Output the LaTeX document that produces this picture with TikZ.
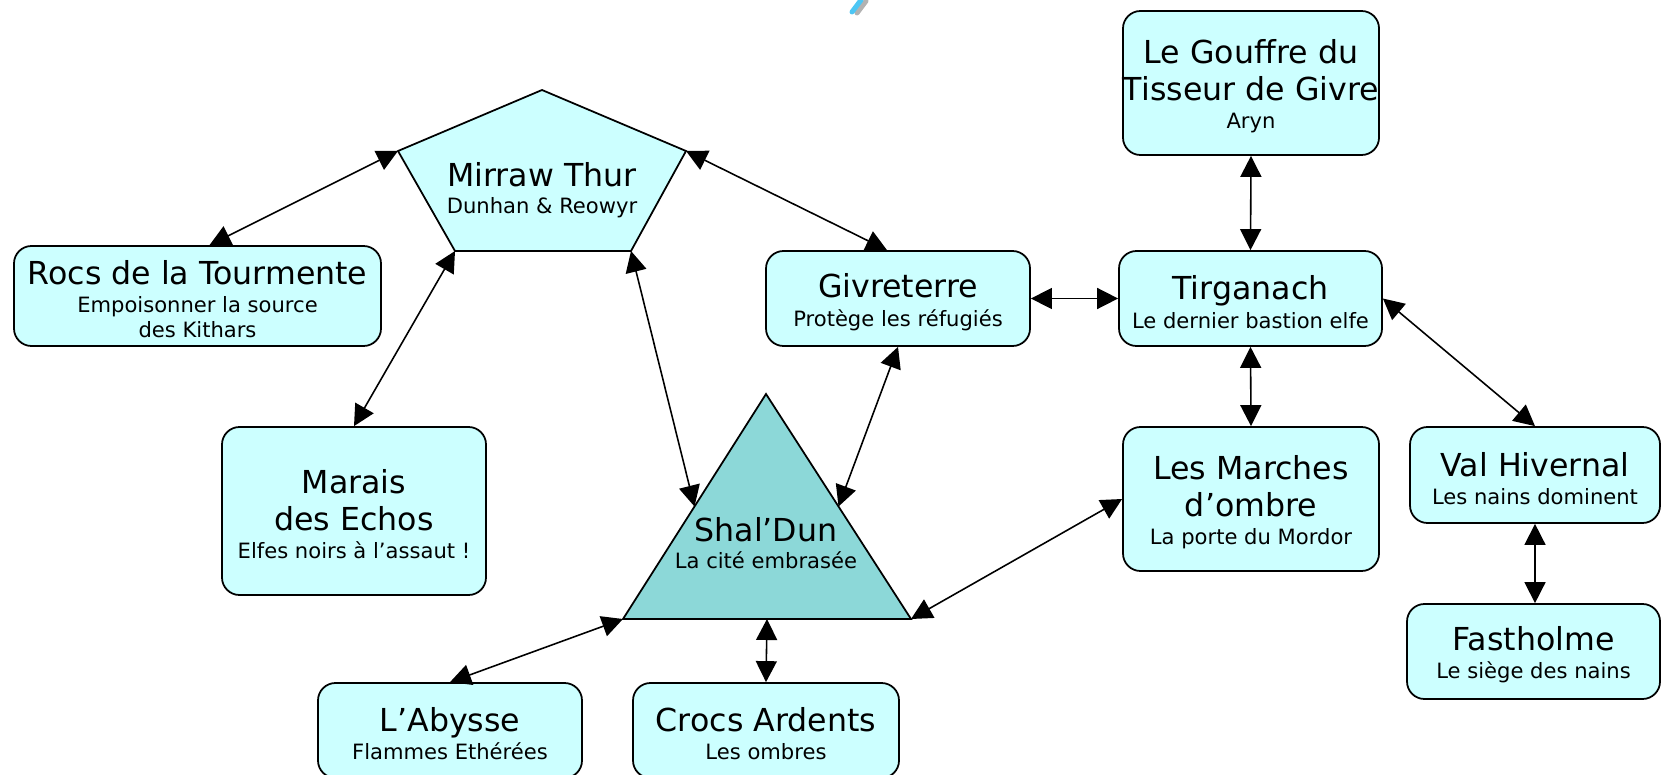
\documentclass[tikz,border=0pt]{standalone}
\usepackage{fontspec}
\setmainfont{DejaVu Sans}
\usetikzlibrary{arrows.meta}
\usetikzlibrary{calc}

\definecolor{boxcyan}{RGB}{204,255,255}
\definecolor{citycyan}{RGB}{140,216,216}

\newcommand{\bigtxt}{\fontsize{18}{14.2}\selectfont}
\newcommand{\smalltxt}{\fontsize{12}{14.2}\selectfont}
\newcommand{\lift}{\rule{0pt}{17.5pt}}

\tikzset{
  place/.style={draw, line width=1pt, fill=boxcyan, rounded corners=3.5mm,
    align=center, inner sep=0pt, font=\smalltxt},
  link/.style={line width=0.9pt,
    {Triangle[length=4.2mm,width=4.2mm]}-{Triangle[length=4.2mm,width=4.2mm]}},
}

\begin{document}
\begin{tikzpicture}[x=0.2mm, y=-0.2mm]
    \clip (0,0) rectangle (1661,775);

    % stray mark at the top
    \draw [gray!60, line width=1mm, line cap=round] (866,1) -- (857,13);
    \draw [cyan!70, line width=1mm, line cap=round] (861,0) -- (852,12);

    % Mirraw Thur (pentagon)
    \coordinate (MirrawTop) at (542, 90);
    \coordinate (MirrawUL) at (398, 151);
    \coordinate (MirrawUR) at (686, 151);
    \coordinate (MirrawLL) at (455, 251);
    \coordinate (MirrawLR) at (631, 251);
    \draw [fill=boxcyan, line width=1pt, line join=miter]
      (MirrawTop) -- (MirrawUR) -- (MirrawLR) -- (MirrawLL) -- (MirrawUL) -- cycle;
    \node [font=\smalltxt, align=center, inner sep=0pt] (MirrawThur) at (542, 190)
      {\bigtxt Mirraw Thur\\[1.5pt] Dunhan \& Reowyr};

    % Shal'Dun (triangle)
    \coordinate (ShalTop) at (766, 394);
    \coordinate (ShalBL) at (623, 619);
    \coordinate (ShalBR) at (911, 619);
    \coordinate (ShalLeft) at ($(ShalTop)!0.5!(ShalBL)$);
    \coordinate (ShalRight) at ($(ShalTop)!0.5!(ShalBR)$);
    \coordinate (ShalBottom) at ($(ShalBL)!0.5!(ShalBR)$);
    \draw [fill=citycyan, line width=1pt, line join=miter]
      (ShalTop) -- (ShalBR) -- (ShalBL) -- cycle;
    \node [font=\smalltxt, align=center, inner sep=0pt] (ShalDun) at (766, 543)
      {\bigtxt Shal’Dun\\[1.5pt] La cité embrasée};

    % the boxes
    \node [place, minimum width=51.2mm, minimum height=28.8mm] (Gouffre) at (1251, 83)
      {\lift\bigtxt Le Gouffre du\\[6.8pt] \bigtxt Tisseur de Givre\\[1.5pt] Aryn};
    \node [place, minimum width=73.4mm, minimum height=20mm] (Rocs) at (197.5, 296)
      {\lift\bigtxt Rocs de la Tourmente\\[1.5pt] Empoisonner la source\\ des Kithars};
    \node [place, minimum width=52.8mm, minimum height=19mm] (Givreterre) at (898, 298.5)
      {\lift\bigtxt Givreterre\\[2.5pt] Protège les réfugiés};
    \node [place, minimum width=52.6mm, minimum height=19mm] (Tirganach) at (1250.5, 298.5)
      {\lift\bigtxt Tirganach\\[2.5pt] Le dernier bastion elfe};
    \node [place, minimum width=52.8mm, minimum height=33.6mm] (Marais) at (354, 511)
      {\lift\bigtxt Marais\\[6.8pt] \bigtxt des Echos\\[1.5pt] Elfes noirs à l’assaut !};
    \node [place, minimum width=51.2mm, minimum height=28.8mm] (Marches) at (1251, 499)
      {\lift\bigtxt Les Marches\\[6.8pt] \bigtxt d’ombre\\[1.5pt] La porte du Mordor};
    \node [place, minimum width=50mm, minimum height=19.2mm] (ValHivernal) at (1535, 475)
      {\lift\bigtxt Val Hivernal\\[1.5pt] Les nains dominent};
    \node [place, minimum width=50.6mm, minimum height=19mm] (Fastholme) at (1533.5, 651.5)
      {\lift\bigtxt Fastholme\\[1.5pt] Le siège des nains};
    \node [place, minimum width=52.8mm, minimum height=19mm] (Abysse) at (450, 730.5)
      {\lift\bigtxt L’Abysse\\[1.5pt] Flammes Ethérées};
    \node [place, minimum width=53.2mm, minimum height=19mm] (Crocs) at (766, 730.5)
      {\lift\bigtxt Crocs Ardents\\[1.5pt] Les ombres};

    % the links
    \draw [link] ([xshift=2.4mm]Rocs.north) -- (MirrawUL);
    \draw [link] (MirrawUR) -- ([xshift=-2.2mm]Givreterre.north);
    \draw [link] (MirrawLL) -- (Marais.north);
    \draw [link] (MirrawLR) -- (ShalLeft);
    \draw [link] (Givreterre.south) -- (ShalRight);
    \draw [link] (Givreterre.east) -- (Tirganach.west);
    \draw [link] (Gouffre.south) -- (Tirganach.north);
    \draw [link] (Tirganach.south) -- (Marches.north);
    \draw [link] (Tirganach.east) -- (ValHivernal.north);
    \draw [link] (ValHivernal.south) -- (ValHivernal.south |- Fastholme.north);
    \draw [link] (ShalBR) -- (Marches.west);
    \draw [link] (ShalBL) -- (Abysse.north);
    \draw [link] (ShalBottom) -- (Crocs.north);

\end{tikzpicture}
\end{document}
